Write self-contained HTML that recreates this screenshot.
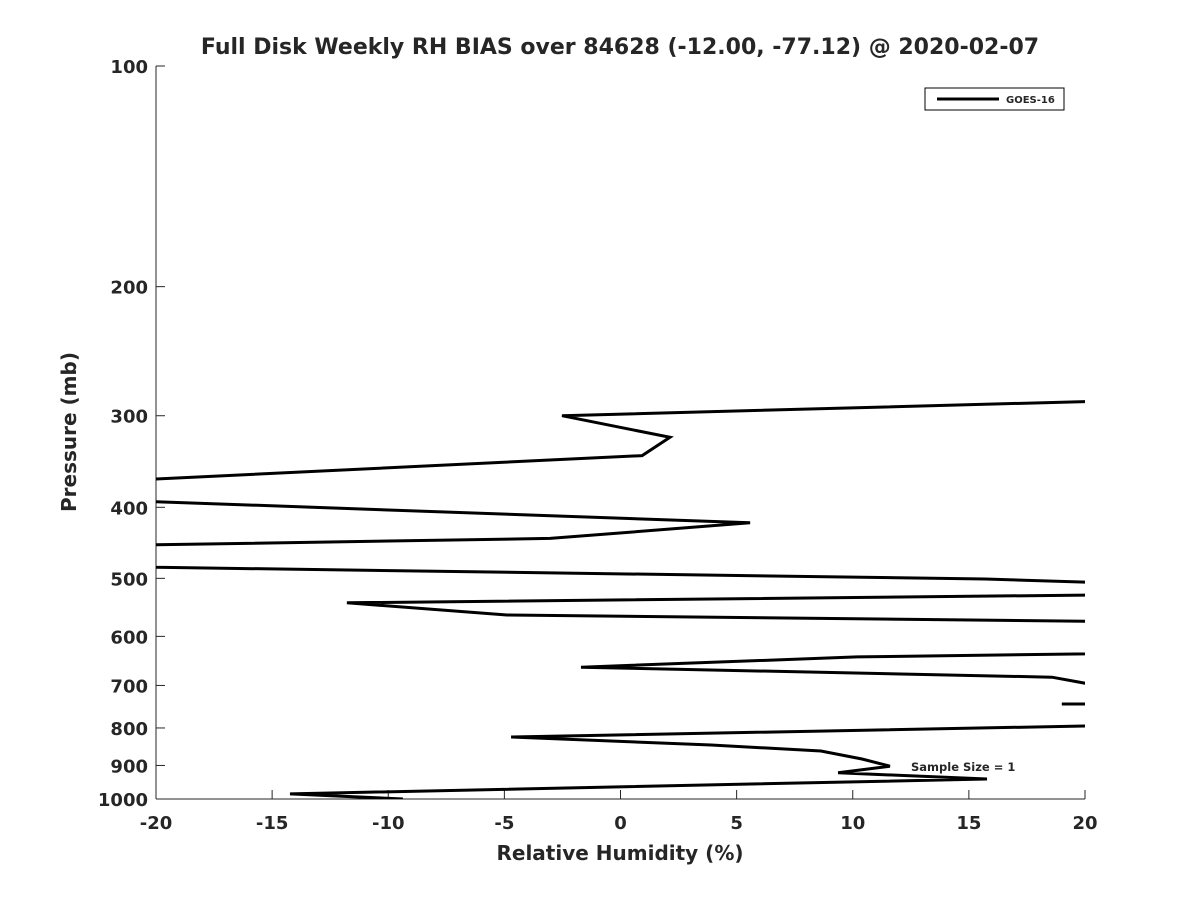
<!DOCTYPE html>
<html><head><meta charset="utf-8"><style>
body{margin:0;background:#fff;font-family:"DejaVu Sans",sans-serif}
svg text{font-family:"DejaVu Sans",sans-serif;font-weight:bold;fill:#262626}
</style></head><body>
<svg width="1200" height="900">
<defs><clipPath id="pc"><rect x="156" y="66" width="929" height="733"/></clipPath></defs>
<text x="620" y="54" text-anchor="middle" font-size="22" fill="#000">Full Disk Weekly RH BIAS over 84628 (-12.00, -77.12) @ 2020-02-07</text>
<g id="axes"></g>
<path id="series" fill="none" stroke="#000" stroke-width="3" clip-path="url(#pc)"/>
<g>
<rect x="925" y="88" width="139" height="22" fill="#fff" stroke="#000" stroke-width="1"/>
<line x1="937" y1="99" x2="999" y2="99" stroke="#000" stroke-width="3"/>
<text x="1006" y="103" font-size="10" fill="#000">GOES-16</text>
</g>
<text x="911" y="771" font-size="11.5" fill="#000">Sample Size = 1</text>
<text x="620" y="860" text-anchor="middle" font-size="20">Relative Humidity (%)</text>
<text transform="translate(76,432) rotate(-90)" text-anchor="middle" font-size="20">Pressure (mb)</text>
</svg>
<script>
const xTicks=[-20,-15,-10,-5,0,5,10,15,20];
const yTicks=[100,200,300,400,500,600,700,800,900,1000];
const pressure=[285,287,300,321,340,366,380,393,420,441,450,466,483,501,506,515,527,540,561,572,600,634,640,661,682,695,710,null,742,742,750,null,790,795,823,844,860,882,902,921,939,984,1000];
const bias=[30,20,-2.52,2.13,0.93,-20,-30,-20,5.58,-3.03,-20,-30,-20,15.7,20,30,20,-11.78,-4.89,20,30,20,10.18,-1.7,18.58,20,30,null,19.0,20,30,null,30,20,-4.71,3.9,8.63,10.4,11.6,9.37,15.78,-14.23,-9.37];
const X0=156,X1=1085,Y0=66,Y1=799;
const xs=v=>X0+(v+20)/40*(X1-X0);
const ys=p=>Y0+Math.log10(p/100)*(Y1-Y0);
const NS="http://www.w3.org/2000/svg";
const ax=document.getElementById('axes');
function mk(t,a){const e=document.createElementNS(NS,t);for(const k in a)e.setAttribute(k,a[k]);ax.appendChild(e);return e;}
const la=mk('line',{x1:X0,y1:Y0,x2:X0,y2:Y1,stroke:'#262626','stroke-width':1});


const lb=mk('line',{x1:X0,y1:Y1,x2:X1,y2:Y1,stroke:'#262626','stroke-width':1});


xTicks.forEach(v=>{const x=xs(v);
 const t=mk('line',{x1:x,y1:Y1,x2:x,y2:Y1-9,stroke:'#262626'});
 
 
 const l=mk('text',{x:x,y:829,'text-anchor':'middle','font-size':18});l.textContent=v;
 
 });
yTicks.forEach(p=>{const y=ys(p);
 const t=mk('line',{x1:X0,y1:y,x2:X0+9,y2:y,stroke:'#262626'});
 
 
 const l=mk('text',{x:148,y:y+7,'text-anchor':'end','font-size':18});l.textContent=p;
 
 });
let d='',pen=false;
for(let i=0;i<bias.length;i++){
 if(bias[i]===null||pressure[i]===null){pen=false;continue;}
 d+=(pen?'L':'M')+xs(bias[i]).toFixed(1)+' '+ys(pressure[i]).toFixed(1)+' ';pen=true;}
document.getElementById('series').setAttribute('d',d);
</script>
</body></html>
